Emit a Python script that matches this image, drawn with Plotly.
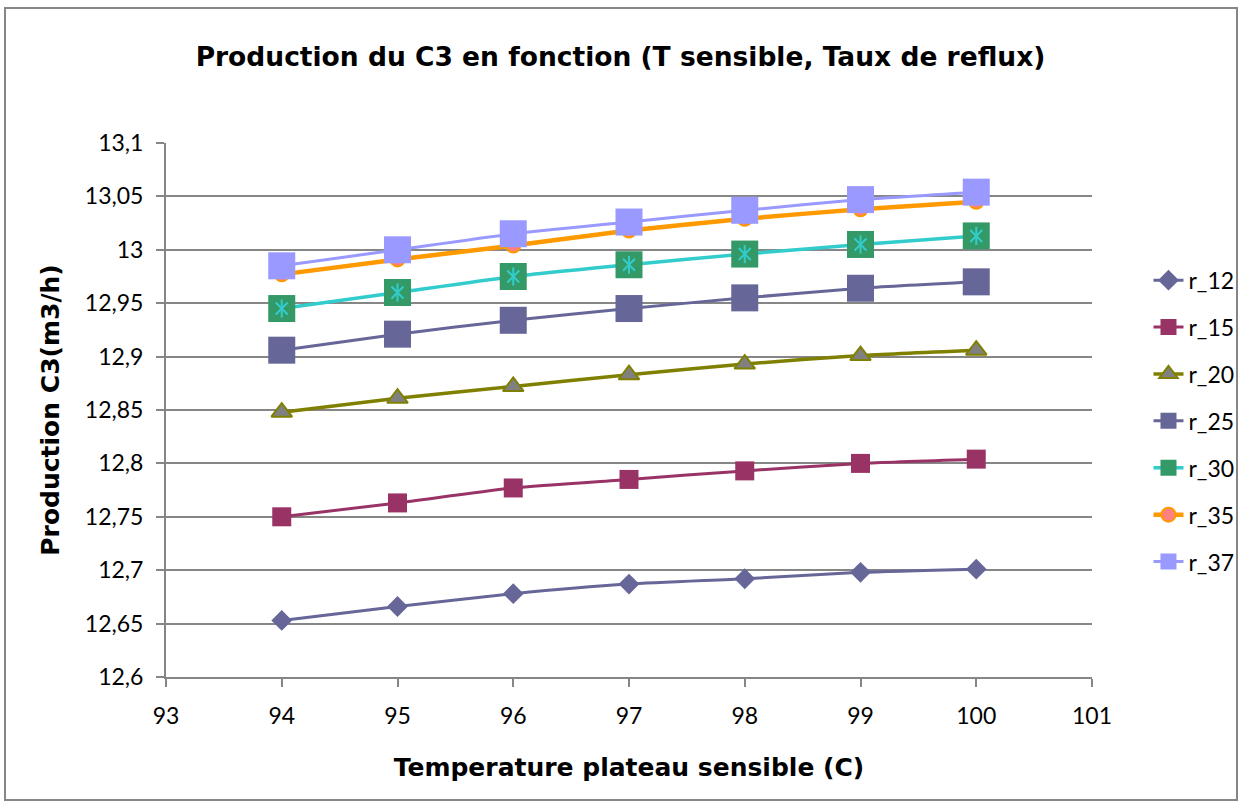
import plotly.graph_objects as go

# ---- data ----
temperature = [94, 95, 96, 97, 98, 99, 100]
r_12 = [12.653, 12.666, 12.678, 12.687, 12.692, 12.698, 12.701]
r_15 = [12.750, 12.763, 12.777, 12.785, 12.793, 12.800, 12.804]
r_20 = [12.848, 12.861, 12.872, 12.883, 12.893, 12.901, 12.906]
r_25 = [12.906, 12.921, 12.934, 12.945, 12.955, 12.964, 12.970]
r_30 = [12.945, 12.960, 12.975, 12.986, 12.996, 13.005, 13.013]
r_35 = [12.977, 12.991, 13.004, 13.018, 13.029, 13.038, 13.045]
r_37 = [12.985, 13.000, 13.015, 13.026, 13.037, 13.047, 13.054]

y_tick_values = [12.6, 12.65, 12.7, 12.75, 12.8, 12.85, 12.9, 12.95, 13.0, 13.05, 13.1]
y_tick_labels = ["12,6", "12,65", "12,7", "12,75", "12,8", "12,85", "12,9", "12,95", "13", "13,05", "13,1"]
x_tick_values = [93, 94, 95, 96, 97, 98, 99, 100, 101]

title_text = "Production du C3 en fonction (T sensible, Taux de reflux)"
x_title = "Temperature plateau sensible (C)"
y_title = "Production C3(m3/h)"

FONT = "Lato, 'Open Sans', sans-serif"
TFONT = "'DejaVu Sans', Verdana, sans-serif"
GRID = "#868686"

fig = go.Figure()

def add_series(name, y, line_color, line_width, symbol, msize, mcolor, mline_color=None, mline_width=0):
    fig.add_trace(go.Scatter(
        x=temperature, y=y, name=name, mode="lines+markers",
        legendgroup=name,
        line=dict(color=line_color, width=line_width, shape="spline", smoothing=0.6),
        marker=dict(symbol=symbol, size=msize, color=mcolor,
                    line=dict(color=mline_color or mcolor, width=mline_width)),
    ))

add_series("r_12", r_12, "#666699", 3, "diamond", 16, "#666699")
add_series("r_15", r_15, "#993366", 3, "square", 19, "#993366")
add_series("r_20", r_20, "#808000", 3.5, "triangle-up", 18, "#808080", "#808000", 2)
add_series("r_25", r_25, "#666699", 3, "square", 27, "#666699")
add_series("r_30", r_30, "#33CCCC", 3.5, "square", 27, "#339966")
# asterisk overlay for r_30
fig.add_trace(go.Scatter(
    x=temperature, y=r_30, mode="markers", legendgroup="r_30", showlegend=False, hoverinfo="skip",
    marker=dict(symbol="x-thin-open", size=12, color="#33CCCC", line=dict(color="#33CCCC", width=2)),
))
fig.add_trace(go.Scatter(
    x=temperature, y=r_30, mode="markers", legendgroup="r_30", showlegend=False, hoverinfo="skip",
    marker=dict(symbol="line-ns-open", size=13, color="#33CCCC", line=dict(color="#33CCCC", width=2)),
))
add_series("r_35", r_35, "#FF9900", 4.5, "circle", 14, "#FF8080", "#FF9900", 2)
add_series("r_37", r_37, "#9999FF", 3, "square", 27, "#9999FF")

fig.update_layout(
    width=1241, height=805,
    margin=dict(l=166, r=149, t=143, b=128, autoexpand=False),
    paper_bgcolor="white", plot_bgcolor="white",
    font=dict(family=FONT, size=23, color="black"),
    title=dict(text=title_text, x=0.5, xref="container", xanchor="center",
               y=1 - 57 / 805, yref="container", yanchor="middle",
               font=dict(family=TFONT, size=26.5, color="black", weight="bold")),
    showlegend=True,
    legend=dict(x=1.061, xanchor="left", y=0.479, yanchor="middle",
                font=dict(family=FONT, size=23, color="black"),
                bgcolor="rgba(0,0,0,0)", tracegroupgap=14, itemsizing="trace"),
    xaxis=dict(range=[93, 101], tickvals=x_tick_values, showgrid=False, zeroline=False,
               showline=True, linecolor=GRID, linewidth=2,
               ticks="outside", ticklen=8, tickwidth=2, tickcolor=GRID,
               ticklabelstandoff=9,
               tickfont=dict(family=FONT, size=23),
               title=dict(text=x_title, standoff=31,
                          font=dict(family=TFONT, size=25, weight="bold"))),
    yaxis=dict(range=[12.6, 13.1], tickvals=y_tick_values, ticktext=y_tick_labels,
               showgrid=True, gridcolor=GRID, gridwidth=2, zeroline=False,
               showline=True, linecolor=GRID, linewidth=2,
               ticks="outside", ticklen=8, tickwidth=2, tickcolor=GRID,
               ticklabelstandoff=8,
               tickfont=dict(family=FONT, size=23),
               title=dict(text=y_title, standoff=18,
                          font=dict(family=TFONT, size=25, weight="bold"))),
    shapes=[dict(type="rect", xref="paper", yref="paper",
                 x0=(5 - 166) / 926, x1=(1237 - 166) / 926,
                 y0=(677 - 800) / 534, y1=(677 - 8) / 534,
                 line=dict(color=GRID, width=2), fillcolor="rgba(0,0,0,0)", layer="below")],
)

fig.write_html("out.html")
